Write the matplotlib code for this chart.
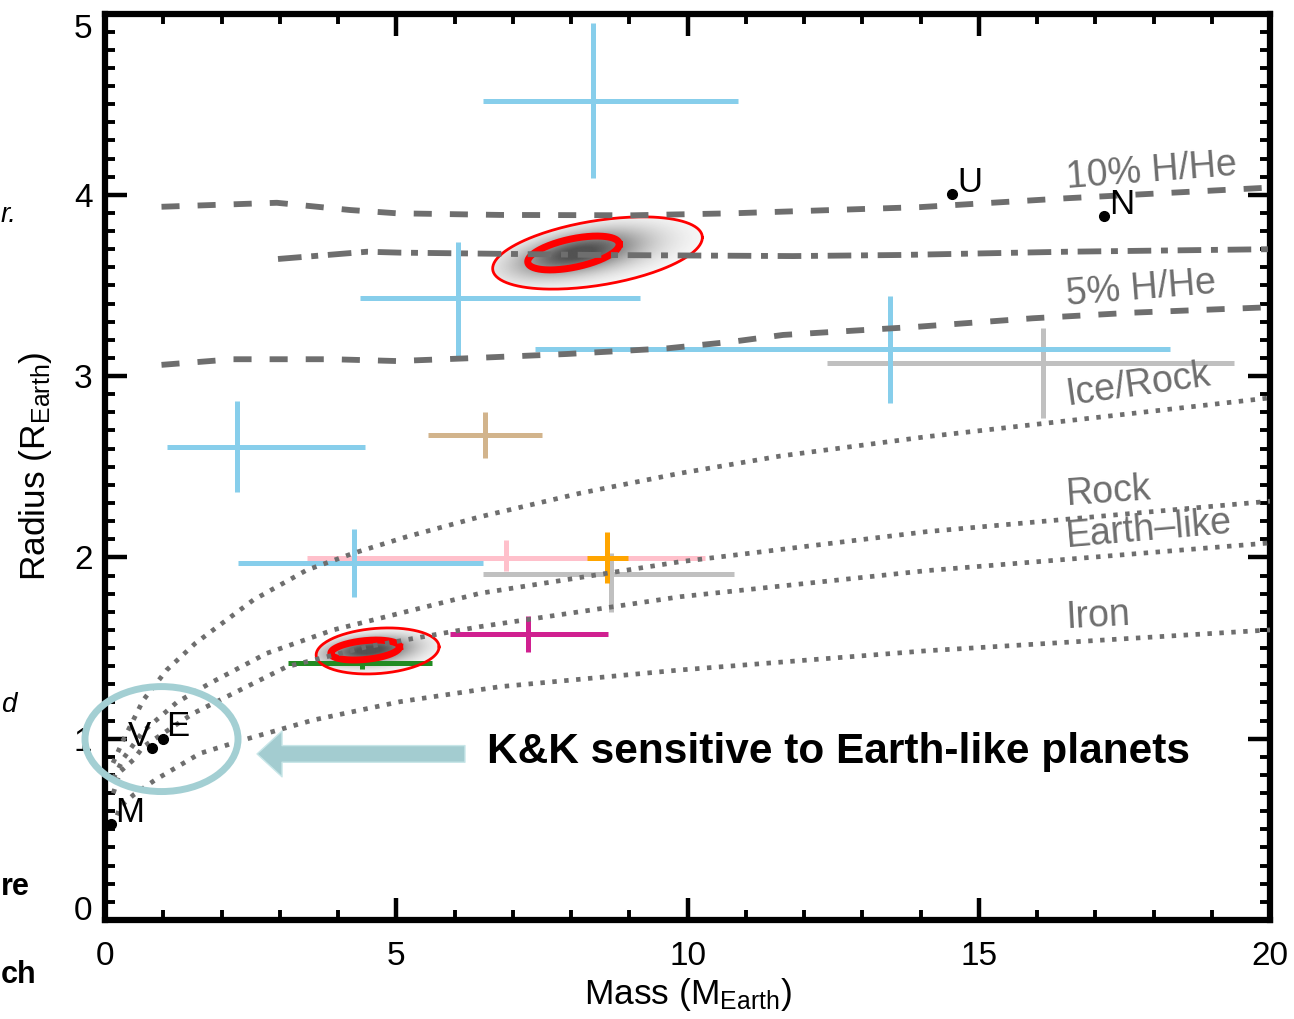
import numpy as np
import matplotlib
matplotlib.use("Agg")
import matplotlib.pyplot as plt
from matplotlib.patches import Ellipse

plt.rcParams['font.family'] = ['Liberation Sans', 'DejaVu Sans']
plt.rcParams['mathtext.default'] = 'regular'
plt.rcParams['lines.scale_dashes'] = False

# planetas com barras de erro (massa, limites de massa, raio, limites de raio, cor)
massa = [6.88, 8.69, 16.10, 8.38, 6.06, 13.48, 2.27, 4.27, 6.52, 7.27, 4.42, 8.62]
massa_min = [3.47, 6.49, 12.40, 6.49, 4.38, 7.38, 1.06, 2.28, 5.545, 5.93, 3.14, 8.27]
massa_max = [10.30, 10.80, 19.38, 10.87, 9.18, 18.28, 4.46, 6.49, 7.50, 8.63, 5.61, 8.975]
raio = [1.998, 1.908, 3.07, 4.52, 3.43, 3.15, 2.61, 1.967, 2.675, 1.579, 1.416, 1.998]
raio_min = [1.925, 1.701, 2.77, 4.09, 3.105, 2.85, 2.36, 1.780, 2.548, 1.480, 1.383, 1.861]
raio_max = [2.096, 2.022, 3.265, 4.95, 3.74, 3.44, 2.86, 2.155, 2.80, 1.677, 1.449, 2.138]
cores = ['#FFC0CB', '#C0C0C0', '#C0C0C0', '#87CEEB', '#87CEEB', '#87CEEB',
         '#87CEEB', '#87CEEB', '#D2B48C', '#D02090', '#228B22', '#FFA500']

# sistema solar
sol_nome = ['M', 'V', 'E', 'U', 'N']
sol_massa = [0.107, 0.815, 1.0, 14.54, 17.15]
sol_raio = [0.532, 0.949, 1.0, 4.007, 3.883]

# curvas de composicao
hhe10_m = [0.97, 2.95, 4.21, 5.01, 6.78, 9.06, 10.78, 13.99, 16.51, 20.0]
hhe10_r = [3.934, 3.956, 3.916, 3.898, 3.889, 3.887, 3.898, 3.932, 3.981, 4.04]
hhe_mid_m = [2.97, 4.50, 5.06, 8.50, 11.81, 13.65, 16.51, 20.0]
hhe_mid_r = [3.646, 3.686, 3.681, 3.668, 3.662, 3.668, 3.686, 3.70]
hhe5_m = [0.97, 2.20, 3.91, 5.01, 6.21, 7.93, 9.65, 10.78, 11.64, 13.94, 15.93, 17.65, 20.0]
hhe5_r = [3.062, 3.093, 3.093, 3.083, 3.098, 3.122, 3.153, 3.19, 3.227, 3.272, 3.319, 3.350, 3.38]

gelo_m = [0.137, 0.314, 0.657, 1.059, 1.55, 2.546, 3.463, 4.263, 5.18, 6.438, 8.155, 9.87, 11.59, 14.11, 20.0]
gelo_r = [0.866, 0.993, 1.213, 1.379, 1.526, 1.765, 1.930, 2.023, 2.114, 2.224, 2.354, 2.464, 2.559, 2.666, 2.88]
rocha_m = [0.142, 0.314, 0.652, 0.944, 1.231, 1.803, 2.776, 3.919, 5.064, 6.438, 9.871, 14.106, 20.0]
rocha_r = [0.78, 0.89, 1.04, 1.12, 1.20, 1.306, 1.471, 1.600, 1.692, 1.802, 1.976, 2.142, 2.31]
terra_m = [0.142, 0.258, 0.486, 0.657, 1.344, 1.516, 2.203, 3.119, 4.493, 6.438, 9.871, 14.106, 20.0]
terra_r = [0.699, 0.818, 0.883, 0.956, 1.103, 1.140, 1.250, 1.397, 1.507, 1.618, 1.783, 1.927, 2.08]
ferro_m = [0.142, 0.258, 0.486, 0.858, 1.631, 2.374, 3.576, 5.064, 6.781, 9.871, 14.106, 20.0]
ferro_r = [0.515, 0.625, 0.689, 0.772, 0.919, 0.993, 1.103, 1.204, 1.287, 1.379, 1.485, 1.60]

# elipses de confianca: centro x, centro y, semi-eixo em massa, inclinacao, semi-altura em raio
elipse_fora = [(8.455, 3.679, 1.80, 0.0475, 0.18), (4.68, 1.484, 1.055, 0.021, 0.125)]
elipse_dentro = [(8.043, 3.679, 0.786, 0.061, 0.08), (4.467, 1.489, 0.59, 0.03, 0.052)]

CINZA = '#6e6e6e'


def contorno(cx, cy, a, inc, b):
    t = np.linspace(0, 2 * np.pi, 200)
    return cx + a * np.cos(t), cy + inc * a * np.cos(t) + b * np.sin(t)


def nuvem(ax, fora, dentro):
    cx, cy, a, inc, b = fora
    xs = np.linspace(cx - 1.1 * a, cx + 1.1 * a, 300)
    ys = np.linspace(cy - 2.2 * b, cy + 2.2 * b, 200)
    X, Y = np.meshgrid(xs, ys)
    r_out = ((X - cx) / a) ** 2 + ((Y - cy - inc * (X - cx)) / b) ** 2
    dx, dy, da, dinc, db = dentro
    r_in = ((X - dx) / da) ** 2 + ((Y - dy - dinc * (X - dx)) / db) ** 2
    dens = 0.75 * np.exp(-0.5 * r_in / 0.8) + 0.35 * np.exp(-0.5 * r_out / 0.25)
    dens = np.clip(dens, 0, 1) * (r_out < 1.0)
    img = np.zeros(X.shape + (4,))
    img[..., :3] = 0.2
    img[..., 3] = dens * 0.85
    ax.imshow(img, extent=[xs[0], xs[-1], ys[0], ys[-1]], origin='lower',
              aspect='auto', interpolation='bilinear', zorder=1)


fig = plt.figure(figsize=(12.94, 10.19), dpi=100)
ax = fig.add_axes([105 / 1294, 99 / 1019, 1165 / 1294, 906.5 / 1019])

for f, d in zip(elipse_fora, elipse_dentro):
    nuvem(ax, f, d)
    x, y = contorno(*f)
    ax.plot(x, y, color='red', lw=2, zorder=3)
    x, y = contorno(*d)
    ax.plot(x, y, color='red', lw=5, zorder=3)

for i in range(len(massa)):
    xerr = [[massa[i] - massa_min[i]], [massa_max[i] - massa[i]]]
    yerr = [[raio[i] - raio_min[i]], [raio_max[i] - raio[i]]]
    ax.errorbar([massa[i]], [raio[i]], xerr=xerr, yerr=yerr, fmt='none',
                ecolor=cores[i], elinewidth=3.6, capsize=0, zorder=2)

ax.plot(hhe10_m, hhe10_r, color=CINZA, lw=4.2, dashes=(13, 13), zorder=4)
ax.plot(hhe_mid_m, hhe_mid_r, color=CINZA, lw=4.2, dashes=(17, 7, 5, 7), zorder=4)
ax.plot(hhe5_m, hhe5_r, color=CINZA, lw=4.2, dashes=(13, 13), zorder=4)
for m, r in [(gelo_m, gelo_r), (rocha_m, rocha_r), (terra_m, terra_r), (ferro_m, ferro_r)]:
    ax.plot(m, r, color=CINZA, lw=3.4, dashes=(3.2, 5.4), zorder=4)

ax.plot(sol_massa, sol_raio, 'o', color='black', ms=7, zorder=6, clip_on=False)
desloc = {'M': (3, 8, 'left'), 'V': (-1, 8, 'right'), 'E': (2, 9, 'left'),
          'U': (4, 8, 'left'), 'N': (4, 8, 'left')}
for nome, m, r in zip(sol_nome, sol_massa, sol_raio):
    ox, oy, ha = desloc[nome]
    ax.annotate(nome, (m, r), xytext=(ox, oy), textcoords='offset points',
                ha=ha, va='center', fontsize=25, zorder=6)

rotulos = [('10% H/He', 4.093, 4.4), ('5% H/He', 3.447, 4.6), ('Ice/Rock', 2.896, 8),
           ('Rock', 2.344, 4), ('Earth\u2013like', 2.112, 5), ('Iron', 1.666, 3)]
for txt, yy, rot in rotulos:
    ax.text(16.5, yy, txt, color=CINZA, fontsize=27, rotation=rot,
            ha='left', va='center', rotation_mode='anchor', zorder=5)

# destaque K&K
ax.add_patch(Ellipse((0.97, 0.998), 2.627, 0.579, fill=False, ec='#a3cfd3',
                     lw=5, clip_on=False, zorder=10))
ax.annotate('', xy=(2.61, 0.916), xytext=(6.18, 0.916),
            arrowprops=dict(arrowstyle='simple,head_length=1.8,head_width=3.3,tail_width=1.2',
                            mutation_scale=10, fc='#a3ccd0', ec='#c8e6e8', lw=1,
                            shrinkA=0, shrinkB=0), zorder=10)
ax.text(6.56, 0.927, 'K&K sensitive to Earth-like planets', fontsize=30.5,
        fontweight='bold', ha='left', va='center', zorder=10)

ax.set_xlim(0, 20)
ax.set_ylim(0, 5)
ax.set_xticks([0, 5, 10, 15, 20])
ax.set_xticks(np.arange(0, 21, 1), minor=True)
ax.set_yticks([0, 1, 2, 3, 4, 5])
ax.set_yticks(np.arange(0, 5.01, 0.1), minor=True)
ax.tick_params(which='both', direction='in', top=True, right=True)
ax.tick_params(which='major', length=15.6, width=3.2, labelsize=24, pad=9)
ax.tick_params(which='minor', length=7.2, width=2.8)
ax.tick_params(axis='x', pad=15)
for s in ax.spines.values():
    s.set_linewidth(4.5)
ylabs = ax.get_yticklabels()
ylabs[0].set_verticalalignment('baseline')
ylabs[-1].set_verticalalignment('top')

ax.set_xlabel('Mass (M$_{Earth}$)', fontsize=25.5, labelpad=3)
ax.set_ylabel('Radius (R$_{Earth}$)', fontsize=25.5, labelpad=14)

# restos de texto do painel vizinho
fig.text(1 / 1294, 1 - 215 / 1019, 'r.', fontsize=20, style='italic', ha='left', va='center')
fig.text(1 / 1294, 1 - 705 / 1019, 'd', fontsize=20, style='italic', ha='left', va='center')
fig.text(1 / 1294, 1 - 887 / 1019, 're', fontsize=22, fontweight='bold', ha='left', va='center')
fig.text(1 / 1294, 1 - 975 / 1019, 'ch', fontsize=22, fontweight='bold', ha='left', va='center')

fig.savefig('out.png', dpi=100)
